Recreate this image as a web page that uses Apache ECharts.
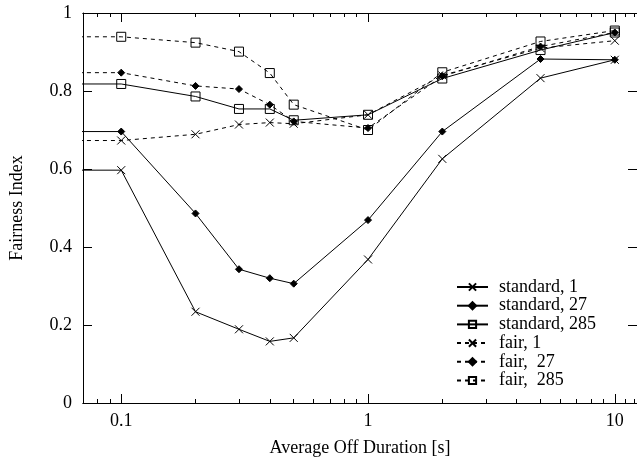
<!DOCTYPE html>
<html>
<head>
<meta charset="utf-8">
<script src="https://cdn.jsdelivr.net/npm/echarts@6/dist/echarts.min.js"></script>
<style>
  html, body { margin: 0; padding: 0; background: #fff; }
  #chart { width: 637px; height: 462px; }
</style>
</head>
<body>
<div id="chart"></div>
<script>
// off durations [s]; first entry is the left edge (clipped, no marker)
var offDuration = [0.05, 0.1, 0.2, 0.3, 0.4, 0.5, 1, 2, 5, 10];

var standard1   = [0.597, 0.597, 0.234, 0.189, 0.158, 0.167, 0.368, 0.626, 0.833, 0.880];
var standard27  = [0.696, 0.696, 0.486, 0.343, 0.320, 0.306, 0.469, 0.696, 0.882, 0.880];
var standard285 = [0.818, 0.818, 0.786, 0.754, 0.754, 0.725, 0.739, 0.832, 0.905, 0.950];
var fair1       = [0.673, 0.673, 0.689, 0.714, 0.719, 0.716, 0.739, 0.840, 0.910, 0.929];
var fair27      = [0.847, 0.847, 0.813, 0.805, 0.765, 0.722, 0.705, 0.838, 0.914, 0.950];
var fair285     = [0.939, 0.939, 0.924, 0.901, 0.846, 0.765, 0.700, 0.848, 0.927, 0.955];

var xMajor = [0.1, 1, 10];
var xMinor = [0.08, 0.09, 0.2, 0.3, 0.4, 0.5, 0.6, 0.7, 0.8, 0.9,
              2, 3, 4, 5, 6, 7, 8, 9, 11, 12];

var FONT = 'Liberation Serif';
var FS = 18;
var CROSS = 'path://M0,0L10,10M10,0L0,10';

function pairs(ys) {
  return ys.map(function (y, i) {
    var p = { value: [offDuration[i], y] };
    if (i === 0) p.symbol = 'none';
    return p;
  });
}

function mkSeries(name, ys, dashed, marker) {
  var sym, size, fill;
  if (marker === 'cross') { sym = CROSS; size = 8; fill = '#000'; }
  else if (marker === 'diamond') { sym = 'diamond'; size = 7; fill = '#000'; }
  else { sym = 'rect'; size = 9; fill = 'rgba(0,0,0,0)'; }
  return {
    name: name,
    type: 'line',
    data: pairs(ys),
    symbol: sym,
    symbolSize: size,
    showAllSymbol: true,
    clip: true,
    lineStyle: { color: '#000', width: 1, type: dashed ? [4, 4] : 'solid' },
    itemStyle: { color: fill, borderColor: '#000', borderWidth: 1 },
    emphasis: { disabled: true },
    animation: false
  };
}

var X_MIN = 0.07, X_MAX = 12.3;

function xAx(pos, ticks, len, main) {
  return {
    type: 'log',
    position: pos,
    min: X_MIN,
    max: X_MAX,
    name: main ? 'Average Off Duration [s]' : '',
    nameLocation: 'middle',
    nameGap: 36,
    nameTextStyle: { fontFamily: FONT, fontSize: FS, color: '#000' },
    axisLine: { show: true, lineStyle: { color: '#000', width: 1 } },
    axisTick: { show: true, inside: true, length: len, customValues: ticks,
                lineStyle: { color: '#000', width: 1 } },
    axisLabel: { show: main, customValues: xMajor, margin: 9,
                 fontFamily: FONT, fontSize: FS, color: '#000',
                 formatter: function (v) { return String(v); } },
    splitLine: { show: false },
    minorTick: { show: false }
  };
}

function yAx(pos, main) {
  return {
    type: 'value',
    position: pos,
    min: 0,
    max: 1,
    interval: 0.2,
    name: main ? 'Fairness Index' : '',
    nameLocation: 'middle',
    nameGap: 57,
    nameTextStyle: { fontFamily: FONT, fontSize: FS, color: '#000' },
    axisLine: { show: true, lineStyle: { color: '#000', width: 1 } },
    axisTick: { show: true, inside: true, length: 9, lineStyle: { color: '#000' } },
    axisLabel: { show: main, margin: 11, fontFamily: FONT, fontSize: FS, color: '#000',
                 formatter: function (v) { return String(+v.toFixed(1)); } },
    splitLine: { show: false }
  };
}

var chart = echarts.init(document.getElementById('chart'), null, { renderer: 'canvas' });
chart.setOption({
  backgroundColor: '#ffffff',
  animation: false,
  grid: { left: 81, right: -4, top: 13, bottom: 58, containLabel: false },
  xAxis: [
    xAx('bottom', xMajor, 9, true),
    xAx('bottom', xMinor, 4, false),
    xAx('top', xMajor, 9, false),
    xAx('top', xMinor, 4, false)
  ],
  yAxis: [yAx('left', true), yAx('right', false)],
  legend: {
    orient: 'vertical',
    left: 456,
    top: 278,
    padding: 0,
    itemWidth: 31,
    itemHeight: 9,
    itemGap: 0.7,
    textStyle: { fontFamily: FONT, fontSize: FS, color: '#000', padding: [0, 0, 0, 6] },
    data: ['standard, 1', 'standard, 27', 'standard, 285', 'fair, 1', 'fair,  27', 'fair,  285']
  },
  series: [
    mkSeries('standard, 1', standard1, false, 'cross'),
    mkSeries('standard, 27', standard27, false, 'diamond'),
    mkSeries('standard, 285', standard285, false, 'square'),
    mkSeries('fair, 1', fair1, true, 'cross'),
    mkSeries('fair,  27', fair27, true, 'diamond'),
    mkSeries('fair,  285', fair285, true, 'square')
  ]
});
</script>
</body>
</html>
